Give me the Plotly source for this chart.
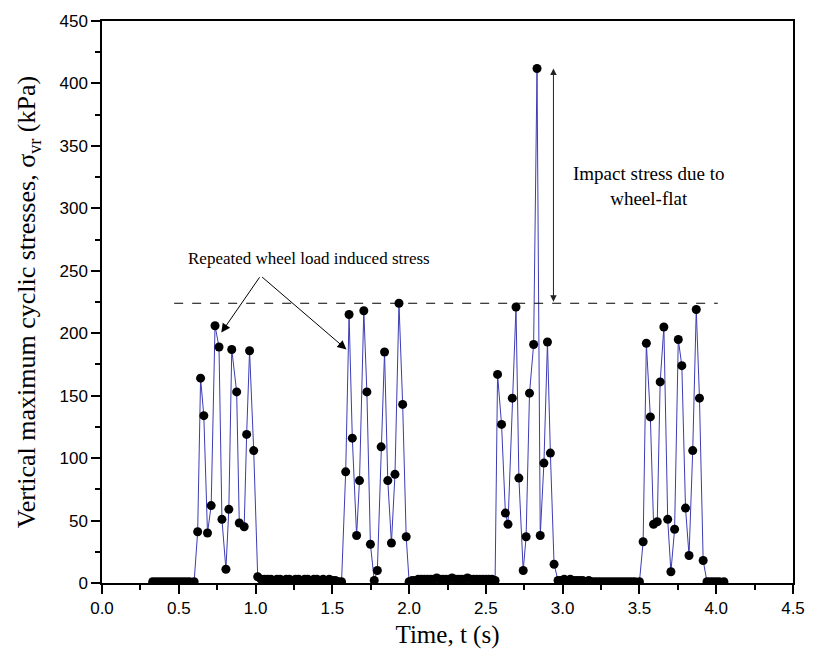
import plotly.graph_objects as go

# ---- data (time in s, stress in kPa) ----
flat1_t = [0.33, 0.35, 0.37, 0.39, 0.41, 0.43, 0.45, 0.47, 0.49, 0.51, 0.53, 0.55, 0.57, 0.60]
flat1_v = [1, 1, 1, 1, 1, 1, 1, 1, 1, 1, 1, 1, 1, 1]

burst1_t = [0.623, 0.642, 0.663, 0.687, 0.711, 0.736, 0.762, 0.781, 0.807, 0.826, 0.845,
            0.877, 0.894, 0.926, 0.942, 0.961, 0.988, 1.014]
burst1_v = [41, 164, 134, 40, 62, 206, 189, 51, 11, 59, 187, 153, 48, 45, 119, 186, 106, 5]

flat2_t = [1.036, 1.058, 1.08, 1.10, 1.12, 1.14, 1.16, 1.18, 1.20, 1.22, 1.24, 1.26, 1.28, 1.30,
           1.32, 1.34, 1.36, 1.38, 1.40, 1.42, 1.44, 1.46, 1.48, 1.50, 1.52, 1.54, 1.56]
flat2_v = [3, 3, 3, 3, 2, 3, 3, 2, 3, 3, 2, 3, 3, 2, 3, 3, 2, 3, 3, 2, 3, 2, 3, 2, 2, 1, 1]

burst2_t = [1.587, 1.609, 1.630, 1.658, 1.677, 1.705, 1.725, 1.748, 1.773, 1.793, 1.818,
            1.840, 1.861, 1.885, 1.908, 1.934, 1.958, 1.981]
burst2_v = [89, 215, 116, 38, 82, 218, 153, 31, 2, 10, 109, 185, 82, 32, 87, 224, 143, 37]

flat3_t = [2.00, 2.02, 2.04, 2.06, 2.08, 2.10, 2.12, 2.14, 2.16, 2.18, 2.20, 2.22, 2.24, 2.26,
           2.28, 2.30, 2.32, 2.34, 2.36, 2.38, 2.40, 2.42, 2.44, 2.46, 2.48, 2.50, 2.52, 2.54, 2.56]
flat3_v = [1, 2, 2, 3, 3, 3, 3, 3, 3, 4, 3, 3, 3, 3, 4, 3, 3, 3, 3, 4, 3, 3, 3, 3, 3, 3, 3, 3, 2]

burst3_t = [2.576, 2.602, 2.627, 2.644, 2.672, 2.696, 2.715, 2.743, 2.762, 2.784, 2.811,
            2.833, 2.854, 2.878, 2.901, 2.920, 2.944]
burst3_v = [167, 127, 56, 47, 148, 221, 84, 10, 37, 152, 191, 412, 38, 96, 193, 104, 15]

flat4_t = [2.97, 2.99, 3.01, 3.03, 3.05, 3.07, 3.09, 3.11, 3.13, 3.15, 3.17, 3.19, 3.21, 3.23,
           3.25, 3.27, 3.29, 3.31, 3.33, 3.35, 3.37, 3.39, 3.41, 3.43, 3.45, 3.47, 3.50]
flat4_v = [2, 2, 3, 2, 3, 2, 2, 2, 2, 1, 2, 1, 1, 1, 1, 1, 1, 1, 1, 1, 1, 1, 1, 1, 1, 1, 1]

burst4_t = [3.524, 3.545, 3.571, 3.592, 3.616, 3.635, 3.659, 3.684, 3.705, 3.729, 3.753,
            3.776, 3.800, 3.823, 3.847, 3.870, 3.891, 3.915]
burst4_v = [33, 192, 133, 47, 49, 161, 205, 51, 9, 43, 195, 174, 60, 22, 106, 219, 148, 18]

flat5_t = [3.94, 3.96, 3.98, 4.00, 4.02, 4.05]
flat5_v = [1, 1, 1, 1, 1, 1]

time = flat1_t + burst1_t + flat2_t + burst2_t + flat3_t + burst3_t + flat4_t + burst4_t + flat5_t
stress = flat1_v + burst1_v + flat2_v + burst2_v + flat3_v + burst3_v + flat4_v + burst4_v + flat5_v

x_ticks = [0.0, 0.5, 1.0, 1.5, 2.0, 2.5, 3.0, 3.5, 4.0, 4.5]
x_tick_labels = ["0.0", "0.5", "1.0", "1.5", "2.0", "2.5", "3.0", "3.5", "4.0", "4.5"]
y_ticks = [0, 50, 100, 150, 200, 250, 300, 350, 400, 450]

# annotation geometry (data units)
ref_level = 224
ref_x0, ref_x1 = 0.47, 4.01
rep_text_xy = (1.35, 260)
rep_tail = (1.033, 246)
rep_heads = [(0.777, 200.5), (1.592, 187)]
impact_x = 2.94
impact_top = 412
impact_text_xy = (3.56, 318)

serif = "Liberation Serif, Times New Roman, serif"
sans = "Liberation Sans, Arial, sans-serif"

fig = go.Figure()
fig.add_trace(go.Scatter(
    x=time, y=stress, mode="lines+markers",
    line=dict(color="#3c3cb4", width=1),
    marker=dict(color="black", size=9),
    showlegend=False,
))

fig.add_shape(type="line", x0=ref_x0, x1=ref_x1, y0=ref_level, y1=ref_level,
              xref="x", yref="y", line=dict(color="black", width=1, dash="dash"))

annotations = [
    dict(x=rep_text_xy[0], y=rep_text_xy[1], text="Repeated wheel load induced stress",
         showarrow=False, font=dict(family=serif, size=17, color="black")),
    dict(x=impact_text_xy[0], y=impact_text_xy[1], text="Impact stress due to<br>wheel-flat",
         showarrow=False, font=dict(family=serif, size=19, color="black")),
    dict(x=impact_x, y=impact_top, ax=impact_x, ay=ref_level, xref="x", yref="y",
         axref="x", ayref="y", text="", showarrow=True, arrowhead=2, startarrowhead=2,
         arrowside="end+start", arrowsize=1.3, arrowwidth=1, arrowcolor="#222"),
]
for hx, hy in rep_heads:
    annotations.append(dict(x=hx, y=hy, ax=rep_tail[0], ay=rep_tail[1], xref="x", yref="y",
                            axref="x", ayref="y", text="", showarrow=True, arrowhead=2,
                            arrowsize=1.8, arrowwidth=1, arrowcolor="black"))

fig.update_layout(
    width=817, height=659,
    margin=dict(l=102, r=14, t=15, b=76),
    paper_bgcolor="white", plot_bgcolor="white",
    annotations=annotations,
    xaxis=dict(
        range=[0, 4.5], tickvals=x_ticks, ticktext=x_tick_labels,
        showline=True, linecolor="black", linewidth=1.5, mirror=True,
        ticks="outside", ticklen=9, tickwidth=1.5, tickcolor="black",
        minor=dict(ticks="outside", ticklen=5, tickwidth=1.5, tickcolor="black", dtick=0.25, showgrid=False),
        showgrid=False, zeroline=False,
        tickfont=dict(family=sans, size=17, color="black"),
        title=dict(text="Time, t (s)", font=dict(family=serif, size=25, color="black"), standoff=8),
    ),
    yaxis=dict(
        range=[0, 450], tickvals=y_ticks,
        showline=True, linecolor="black", linewidth=1.5, mirror=True,
        ticks="outside", ticklen=9, tickwidth=1.5, tickcolor="black",
        minor=dict(ticks="outside", ticklen=5, tickwidth=1.5, tickcolor="black", dtick=25, showgrid=False),
        showgrid=False, zeroline=False,
        tickfont=dict(family=sans, size=17, color="black"),
        title=dict(text="Vertical maximum cyclic stresses, σ<sub>vr</sub> (kPa)",
                   font=dict(family=serif, size=26, color="black"), standoff=16),
    ),
)

fig.write_html("out.html")
